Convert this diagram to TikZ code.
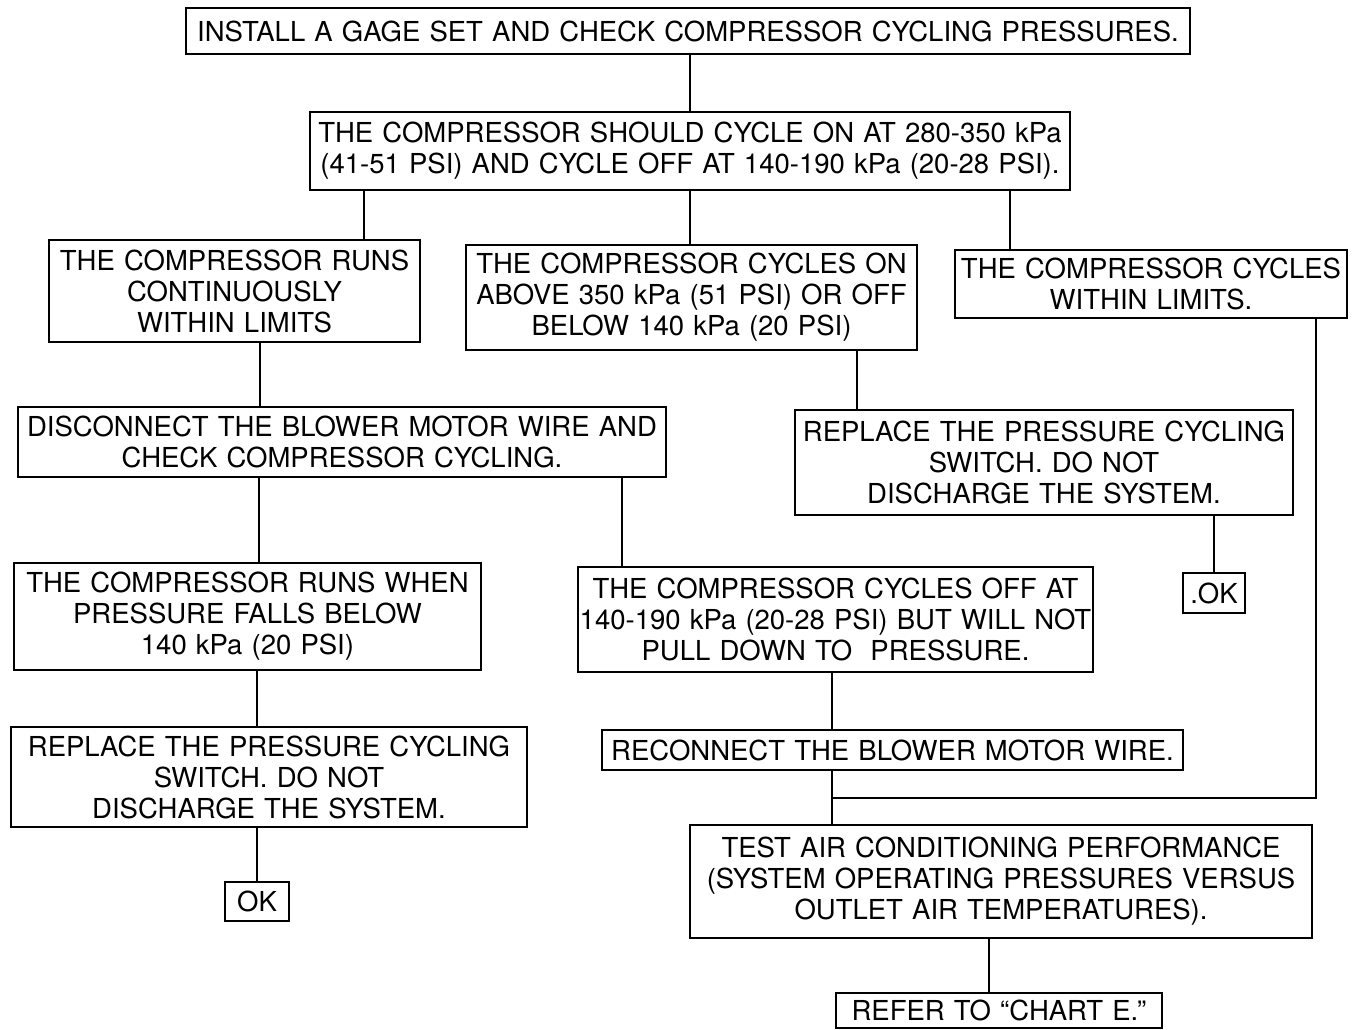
\documentclass[tikz,border=0pt]{standalone}
\usepackage{fontspec}
\setmainfont{TeX Gyre Heros}
\usepackage{tikz}
\usetikzlibrary{positioning}

\begin{document}
\begin{tikzpicture}[x=1pt,y=-1pt,
    box/.style={draw, line width=2pt, inner sep=0pt, align=center, font=\fontsize{27.5}{31}\selectfont},
    link/.style={line width=2pt}]
    \useasboundingbox (0,0) rectangle (1361,1029);
    \node[box, text width=1004pt, minimum height=46pt] (install) at (688,31) {INSTALL A GAGE SET AND CHECK COMPRESSOR CYCLING PRESSURES.};
    \node[box, text width=760pt, minimum height=78pt] (should) at (690,151) {THE COMPRESSOR SHOULD CYCLE ON AT 280-350 kPa\\(41-51 PSI) AND CYCLE OFF AT 140-190 kPa (20-28 PSI).};
    \node[box, text width=371pt, minimum height=102pt] (runs) at (234.5,291) {THE COMPRESSOR RUNS\\CONTINUOUSLY\\WITHIN LIMITS};
    \node[box, text width=451pt, minimum height=105pt] (above) at (691.5,297.5) {THE COMPRESSOR CYCLES ON\\ABOVE 350 kPa (51 PSI) OR OFF\\BELOW 140 kPa (20 PSI)};
    \node[box, text width=392pt, minimum height=68pt] (within) at (1151,284) {THE COMPRESSOR CYCLES\\WITHIN LIMITS.};
    \node[box, text width=648pt, minimum height=70pt] (disc) at (342,442) {DISCONNECT THE BLOWER MOTOR WIRE AND\\CHECK COMPRESSOR CYCLING.};
    \node[box, text width=498pt, minimum height=105pt] (repR) at (1044,462.5) {REPLACE THE PRESSURE CYCLING\\SWITCH. DO NOT\\DISCHARGE THE SYSTEM.};
    \node[box, text width=62pt, minimum height=40pt] (okR) at (1214,593) {.OK};
    \node[box, text width=467pt, minimum height=107pt] (runsWhen) at (247.5,616.5) {THE COMPRESSOR RUNS WHEN\\PRESSURE FALLS BELOW\\140 kPa (20 PSI)};
    \node[box, text width=515pt, minimum height=105pt] (cyclesOff) at (835.5,619.5) {THE COMPRESSOR CYCLES OFF AT\\140-190 kPa (20-28 PSI) BUT WILL NOT\\PULL DOWN TO\ \ PRESSURE.};
    \node[box, text width=516pt, minimum height=100pt] (repL) at (269,777) {REPLACE THE PRESSURE CYCLING\\SWITCH. DO NOT\\DISCHARGE THE SYSTEM.};
    \node[box, text width=64pt, minimum height=39pt] (okL) at (257,901.5) {OK};
    \node[box, text width=581pt, minimum height=40pt] (reconnect) at (892.5,750) {RECONNECT THE BLOWER MOTOR WIRE.};
    \node[box, text width=622pt, minimum height=113pt] (test) at (1001,881.5) {TEST AIR CONDITIONING PERFORMANCE\\(SYSTEM OPERATING PRESSURES VERSUS\\OUTLET AIR TEMPERATURES).};
    \node[box, text width=326pt, minimum height=35pt] (refer) at (999,1010.5) {REFER TO “CHART E.”};
    \path ([xshift=-169pt]test.north) ++(0,-26) coordinate (join);

    \draw[link] (should.north) -- (should.north |- install.south);
    \draw[link] ([xshift=129.5pt]runs.north) -- ([xshift=129.5pt]runs.north |- should.south);
    \draw[link] (should.south) -- (should.south |- above.north);
    \draw[link] ([xshift=-141pt]within.north) -- ([xshift=-141pt]within.north |- should.south);
    \draw[link] ([xshift=25.5pt]runs.south) -- ([xshift=25.5pt]runs.south |- disc.north);
    \draw[link] ([xshift=165.5pt]above.south) -- ([xshift=165.5pt]above.south |- repR.north);
    \draw[link] (okR.north) -- (okR.north |- repR.south);
    \draw[link] ([xshift=11.5pt]runsWhen.north) -- ([xshift=11.5pt]runsWhen.north |- disc.south);
    \draw[link] ([xshift=-213.5pt]cyclesOff.north) -- ([xshift=-213.5pt]cyclesOff.north |- disc.south);
    \draw[link] ([xshift=9.5pt]runsWhen.south) -- ([xshift=9.5pt]runsWhen.south |- repL.north);
    \draw[link] (okL.north) -- (okL.north |- repL.south);
    \draw[link] ([xshift=-3.5pt]cyclesOff.south) -- ([xshift=-3.5pt]cyclesOff.south |- reconnect.north);
    \draw[link] ([xshift=-169pt]test.north) -- ([xshift=-169pt]test.north |- reconnect.south);
    \draw[link] ([xshift=165pt]within.south) |- (join);
    \draw[link] ([xshift=-10pt]refer.north) -- ([xshift=-10pt]refer.north |- test.south);
\end{tikzpicture}
\end{document}
